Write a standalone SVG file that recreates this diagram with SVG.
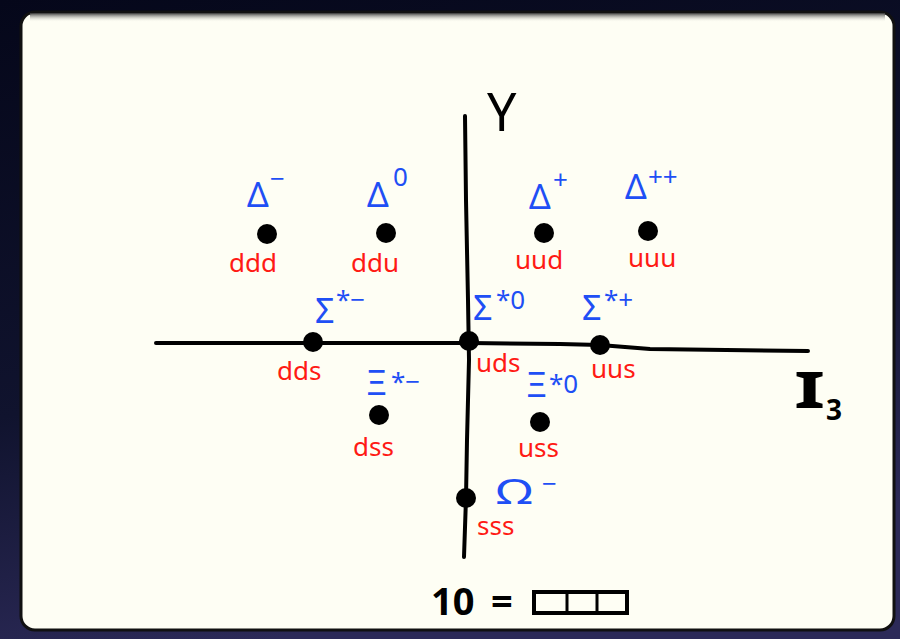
<svg xmlns="http://www.w3.org/2000/svg" width="900" height="639" viewBox="0 0 900 639">
<defs>
<linearGradient id="bg" x1="0" y1="0" x2="0.3" y2="1">
<stop offset="0" stop-color="#05071a"/>
<stop offset="0.6" stop-color="#10132e"/>
<stop offset="1" stop-color="#2c2a58"/>
</linearGradient>
<linearGradient id="topband" x1="0" y1="0" x2="0" y2="1">
<stop offset="0" stop-color="#3a3a3a"/>
<stop offset="1" stop-color="#fefef4" stop-opacity="0"/>
</linearGradient>
<style>
.ax{fill:none;stroke:#000;stroke-width:4;stroke-linecap:round;stroke-linejoin:round}
.dot{fill:#000}
.q{fill:#ff1a14;font-family:"Noto Sans","DejaVu Sans",sans-serif;font-size:26px}
.g{fill:#1f4ff5;font-family:"Noto Sans","DejaVu Sans",sans-serif;font-size:34px}
.s{fill:#1f4ff5;font-family:"Noto Sans","DejaVu Sans",sans-serif;font-size:26px}
.k{fill:#000;font-family:"Noto Sans","DejaVu Sans",sans-serif}
</style>
</defs>
<rect x="0" y="0" width="900" height="639" fill="url(#bg)"/>
<g id="card">
<rect x="21" y="12" width="873" height="618" rx="14" fill="#fefef4" stroke="#111" stroke-width="3"/>
<rect x="30" y="13" width="855" height="9" fill="url(#topband)"/>
</g>
<g id="connectors">
<path class="ax" d="M465,116 L466,200 L468,300 L469,360 L467,440 L466,498 L464,557"/>
<path class="ax" d="M156,343 L470,343 L560,344 L600,345 L650,349 L808,351"/>
</g>
<g id="axis-labels">
<text class="k" x="487" y="131" font-size="52">Y</text>
<text class="k" x="794" y="408" font-size="50" font-weight="bold" font-family="Liberation Serif" transform="translate(794 0) scale(1.6 1) translate(-794 0)">I</text>
<text class="k" x="826" y="420" font-size="28" font-weight="bold">3</text>
</g>
<g id="ddd"><circle class="dot" cx="267" cy="234" r="10"/><text class="g" x="247" y="207">Δ</text><text class="s" x="270" y="188">−</text><text class="q" x="229" y="272">ddd</text></g>
<g id="ddu"><circle class="dot" cx="386" cy="233" r="10"/><text class="g" x="367" y="207">Δ</text><text class="s" x="393" y="186">0</text><text class="q" x="351" y="272">ddu</text></g>
<g id="uud"><circle class="dot" cx="544" cy="233" r="10"/><text class="g" x="529" y="209">Δ</text><text class="s" x="553" y="189">+</text><text class="q" x="515" y="269">uud</text></g>
<g id="uuu"><circle class="dot" cx="648" cy="231" r="10"/><text class="g" x="625" y="199">Δ</text><text class="s" x="648" y="186">++</text><text class="q" x="628" y="267">uuu</text></g>
<g id="dds"><circle class="dot" cx="313" cy="342" r="10"/><text class="g" x="315" y="323">Σ</text><text class="s" x="336" y="309">*−</text><text class="q" x="277" y="380">dds</text></g>
<g id="uds"><circle class="dot" cx="469" cy="341" r="10"/><text class="g" x="473" y="320">Σ</text><text class="s" x="496" y="309">*0</text><text class="q" x="476" y="372">uds</text></g>
<g id="uus"><circle class="dot" cx="600" cy="345" r="10"/><text class="g" x="582" y="320">Σ</text><text class="s" x="604" y="309">*+</text><text class="q" x="591" y="378">uus</text></g>
<g id="dss"><circle class="dot" cx="379" cy="415" r="10"/><text class="g" x="366" y="395">Ξ</text><text class="s" x="391" y="391">*−</text><text class="q" x="353" y="456">dss</text></g>
<g id="uss"><circle class="dot" cx="540" cy="422" r="10"/><text class="g" x="526" y="397">Ξ</text><text class="s" x="549" y="393">*0</text><text class="q" x="518" y="457">uss</text></g>
<g id="sss"><circle class="dot" cx="466" cy="498" r="10"/><text class="g" x="496" y="504" transform="translate(496 0) scale(1.5 1) translate(-496 0)">Ω</text><text class="s" x="542" y="493">−</text><text class="q" x="477" y="535">sss</text></g>
<g id="decuplet">
<text class="k" x="431" y="615" font-size="38" font-weight="bold">10</text>
<text class="k" x="491" y="615" font-size="38" font-weight="bold">=</text>
<rect x="534" y="592" width="93" height="21" fill="none" stroke="#000" stroke-width="4"/>
<line x1="567" y1="592" x2="567" y2="613" stroke="#000" stroke-width="3"/>
<line x1="597" y1="592" x2="597" y2="613" stroke="#000" stroke-width="3"/>
</g>
</svg>
